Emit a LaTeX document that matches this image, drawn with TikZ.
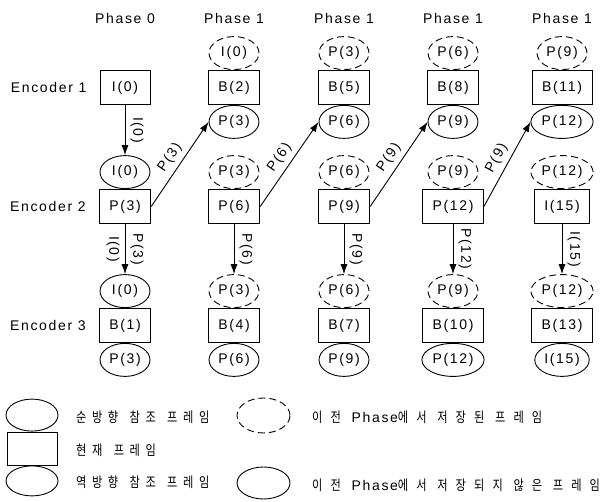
\documentclass[tikz,border=0pt]{standalone}
\usepackage{fontspec}
\setmainfont{Liberation Sans}[LetterSpace=12]
\newfontfamily\kfont{Noto Sans CJK KR}[FakeStretch=0.8,LetterSpace=40,WordSpace=1.4]
\newfontfamily\kfontw{Noto Sans CJK KR}[FakeStretch=0.8,LetterSpace=58]
\newcommand{\kr}[1]{{\kfont\fontsize{14}{16}\selectfont #1}}
\newcommand{\krw}[1]{{\kfontw\fontsize{14}{16}\selectfont #1}}
\usetikzlibrary{positioning,shapes.geometric,arrows.meta}
\tikzset{
  frm/.style={draw,line width=0.9pt,minimum width=50pt,minimum height=34pt,inner xsep=10pt},
  refs/.style={draw,ellipse,line width=0.9pt,minimum width=50pt,minimum height=33pt,inner sep=1.5pt},
  kept/.style={refs,dash pattern=on 7pt off 4pt},
  link/.style={line width=0.9pt,-{Latex[length=10pt,width=7pt]}},
  lab/.style={midway,sloped,above=4pt,inner sep=1pt},
  labl/.style={midway,sloped,below=4pt,inner sep=1pt},
}
\begin{document}
\begin{tikzpicture}[x=1pt,y=-1pt,every node/.style={font=\fontsize{14}{16}\selectfont}]
\useasboundingbox (0,0) rectangle (600,502);
% phase headings
\foreach \c/\x/\ph in {1/125/0,2/234/1,3/344/1,4/453/1,5/562/1}
  \node (ph\c) at (\x,19) {Phase \ph};
% current frames of the three encoders
\foreach \c/\x/\a/\b/\d in {1/125/I(0)/P(3)/B(1),2/234/B(2)/P(6)/B(4),3/344/B(5)/P(9)/B(7),4/453/B(8)/P(12)/B(10),5/562/B(11)/I(15)/B(13)} {
  \node[frm] (e1\c) at (\x,87.5) {\a};
  \node[frm] (e2\c) at (\x,206.5) {\b};
  \node[frm] (e3\c) at (\x,325.5) {\d};
}
\foreach \r in {1,2,3}
  \node[left=13pt of e\r1,inner sep=0pt] (enc\r) {Encoder \r};
% reference frames
\node[refs,above=0pt of e21] (t21) {I(0)};
\node[refs,above=0pt of e31] (t31) {I(0)};
\node[refs,below=0pt of e31] (b31) {P(3)};
\foreach \c/\ta/\ba/\tb/\tc/\bc in {2/I(0)/P(3)/P(3)/P(3)/P(6),3/P(3)/P(6)/P(6)/P(6)/P(9),4/P(6)/P(9)/P(9)/P(9)/P(12),5/P(9)/P(12)/P(12)/P(12)/I(15)} {
  \node[kept,above=0pt of e1\c] (t1\c) {\ta};
  \node[refs,below=0pt of e1\c] (b1\c) {\ba};
  \node[kept,above=0pt of e2\c] (t2\c) {\tb};
  \node[kept,above=0pt of e3\c] (t3\c) {\tc};
  \node[refs,below=0pt of e3\c] (b3\c) {\bc};
}
% links between encoders
\draw[link] (e11.south) -- (t21.north) node[lab] {I(0)};
\draw[link] (e21.south) -- (t31.north) node[lab] {P(3)} node[labl] {I(0)};
\foreach \c/\l in {2/P(6),3/P(9),4/P(12),5/I(15)}
  \draw[link] (e2\c.south) -- (t3\c.north) node[lab] {\l};
\foreach \c/\n/\l in {1/2/P(3),2/3/P(6),3/4/P(9),4/5/P(9)}
  \draw[link] (e2\c.east) -- (b1\n.west) node[lab] {\l};
% legend
\node[frm,minimum width=50pt,minimum height=33pt] (lcur) at (32,448.5) {};
\node[refs,minimum width=52pt,minimum height=32pt,above=0pt of lcur] (lfwd) {};
\node[refs,minimum width=52pt,minimum height=30pt,below=0pt of lcur] (lbwd) {};
\node[kept,minimum width=53pt,minimum height=35pt] (lkept) at (263.5,415.5) {};
\node[refs,minimum width=53pt,minimum height=32pt] (lnew) at (263.5,483) {};
\node[anchor=west,inner sep=0pt] (tfwd) at (76,417) {\kr{순방향 참조 프레임}};
\node[anchor=west,inner sep=0pt] (tcur) at (76,450) {\kr{현재 프레임}};
\node[anchor=west,inner sep=0pt] (tbwd) at (76,482) {\kr{역방향 참조 프레임}};
\node[anchor=west,inner sep=0pt] (tkept) at (312,417) {\krw{이전 }Phase\krw{에서 저장된 프레임}};
\node[anchor=west,inner sep=0pt] (tnew) at (312,485) {\krw{이전 }Phase\krw{에서 저장되지 않은 프레임}};
\end{tikzpicture}
\end{document}
